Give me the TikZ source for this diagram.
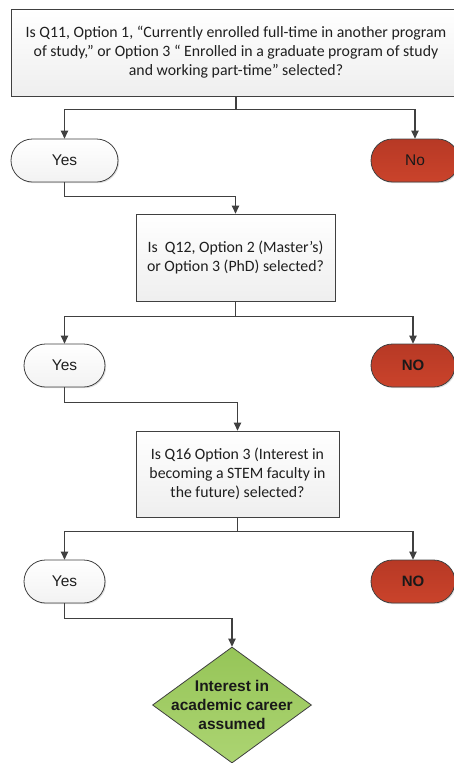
\documentclass[tikz,border=0pt]{standalone}
\usepackage{fontspec}
\setmainfont{Carlito}
\newfontfamily\arialfont{Liberation Sans}
\usetikzlibrary{arrows.meta,shapes.geometric,shadows}

\definecolor{linegray}{RGB}{64,64,64}
\definecolor{nored}{RGB}{183,57,37}
\definecolor{noredlight}{RGB}{202,67,43}
\definecolor{goalgreen}{RGB}{150,197,88}
\definecolor{goalgreenlight}{RGB}{172,212,114}

\tikzset{
    softshadow/.style={drop shadow={shadow xshift=1.2pt,shadow yshift=-1.2pt,opacity=0.25}},
    question/.style={draw=linegray,line width=0.8pt,top color=white,bottom color=gray!13,
        align=center,inner sep=0pt,text=black!88,font=\fontsize{15.8}{19}\selectfont,softshadow},
    yesbox/.style={draw=linegray,line width=0.8pt,rounded corners=21.5pt,minimum height=43pt,
        top color=white,bottom color=gray!10,inner sep=0pt,text=black!88,
        font=\arialfont\fontsize{15.5}{19}\selectfont,softshadow},
    nobox/.style={yesbox,top color=nored,bottom color=noredlight,text=black!90},
    goal/.style={diamond,draw=linegray,line width=0.8pt,inner sep=0pt,
        top color=goalgreen,bottom color=goalgreenlight,minimum width=159pt,minimum height=116pt},
    goaltext/.style={align=center,text=black!90,font=\arialfont\bfseries\fontsize{15.5}{19}\selectfont},
    arr/.style={draw=linegray,line width=1.1pt,-{Triangle[width=7.5pt,length=8pt]}},
}

\begin{document}
\begin{tikzpicture}[x=1pt,y=-1pt]
        \useasboundingbox (0,0) rectangle (454,763);

        % questions
        \node[question,minimum width=450pt,minimum height=87pt] (q1) at (236,52.5)
            {Is Q11, Option 1, “Currently enrolled full-time in another program\\
             of study,” or Option 3 “ Enrolled in a graduate program of study\\
             and working part-time” selected?};
        \node[question,minimum width=199pt,minimum height=87pt] (q2) at (235.5,257.5)
            {Is~ Q12, Option 2 (Master’s)\\ or Option 3 (PhD) selected?};
        \node[question,minimum width=203pt,minimum height=86pt] (q3) at (237.5,474)
            {Is Q16 Option 3 (Interest in\\ becoming a STEM faculty in\\ the future) selected?};

        % answers
        \node[yesbox,minimum width=107pt] (yes1) at (64.5,160.5) {Yes};
        \node[nobox,minimum width=88pt] (no1) at (415,160.5) {No};
        \node[yesbox,minimum width=81pt] (yes2) at (64.5,365.5) {Yes};
        \node[nobox,minimum width=84pt,font=\arialfont\bfseries\fontsize{15}{19}\selectfont] (no2) at (413,365.5) {NO};
        \node[yesbox,minimum width=81pt] (yes3) at (64.5,581.5) {Yes};
        \node[nobox,minimum width=84pt,font=\arialfont\bfseries\fontsize{15}{19}\selectfont] (no3) at (413,581.5) {NO};

        % result
        \node[goal] (end) at (232,705) {};
        \node[goaltext] (endtext) at (end.center) {Interest in\\ academic career\\ assumed};

        % connectors
        \draw[arr] (q1.south) -- ++(0,13) -| (yes1.north);
        \draw[arr] (q1.south) -- ++(0,13) -| (no1.north);
        \draw[arr] (yes1.south) -- ++(0,14) -| (q2.north);

        \draw[arr] (q2.south) -- ++(0,15) -| (yes2.north);
        \draw[arr] (q2.south) -- ++(0,15) -| (no2.north);
        \draw[arr] (yes2.south) -- ++(0,15) -| (q3.north);

        \draw[arr] (q3.south) -- ++(0,14) -| (yes3.north);
        \draw[arr] (q3.south) -- ++(0,14) -| (no3.north);
        \draw[arr] (yes3.south) -- ++(0,15) -| (end.north);
    \end{tikzpicture}
\end{document}
